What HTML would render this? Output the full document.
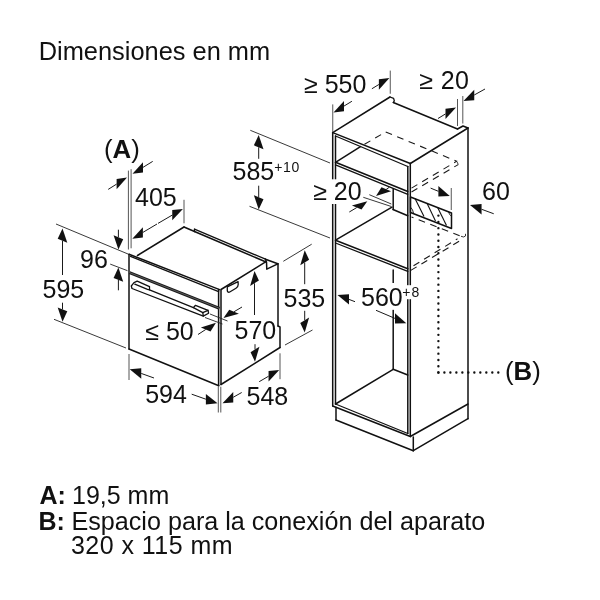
<!DOCTYPE html>
<html><head><meta charset="utf-8"><style>
html,body{margin:0;padding:0;background:#fff;}
svg{display:block;will-change:transform;}
text{font-family:"Liberation Sans",sans-serif;fill:#111;-webkit-font-smoothing:antialiased;}
</style></head><body>
<svg width="600" height="600" viewBox="0 0 600 600">
<rect width="600" height="600" fill="#fff"/>
<line x1="129" y1="254.2" x2="129" y2="349" stroke="#111" stroke-width="1.5" fill="none" stroke-linecap="round" stroke-linejoin="round"/>
<line x1="129" y1="349" x2="218.8" y2="385.8" stroke="#111" stroke-width="1.5" fill="none" stroke-linecap="round" stroke-linejoin="round"/>
<line x1="218.6" y1="289.5" x2="218.6" y2="385.8" stroke="#111" stroke-width="1.5" fill="none" stroke-linecap="round" stroke-linejoin="round"/>
<line x1="221" y1="290.5" x2="221" y2="384.5" stroke="#111" stroke-width="1.5" fill="none" stroke-linecap="round" stroke-linejoin="round"/>
<line x1="129" y1="254.2" x2="219.6" y2="289.6" stroke="#111" stroke-width="1.5" fill="none" stroke-linecap="round" stroke-linejoin="round"/>
<line x1="130.5" y1="256.3" x2="218.6" y2="291.6" stroke="#111" stroke-width="1.3" fill="none" stroke-linecap="round" stroke-linejoin="round"/>
<line x1="129.5" y1="272.6" x2="219.5" y2="308.3" stroke="#1a1a1a" stroke-width="3"/>
<line x1="129.5" y1="272.6" x2="219.5" y2="308.3" stroke="#888" stroke-width="0.6"/>
<path d="M132,288.5 L131.3,286 L134,282.7 L137.2,281.2 L149.5,286.6 L149.5,289.9 L193.4,307.6 L195.5,305.3 L208,310.3 L208.6,313.2 L203.3,316.1 Z" stroke="#111" stroke-width="1.3" fill="none" stroke-linecap="round" stroke-linejoin="round"/>
<path d="M134.8,284.2 L147.5,289.3 L149.5,289.9" stroke="#111" stroke-width="1.3" fill="none" stroke-linecap="round" stroke-linejoin="round"/>
<path d="M193.4,307.6 L202.8,312.6 L208,310.3" stroke="#111" stroke-width="1.3" fill="none" stroke-linecap="round" stroke-linejoin="round"/>
<line x1="202.8" y1="312.6" x2="203.3" y2="316.1" stroke="#111" stroke-width="1.3" fill="none" stroke-linecap="round" stroke-linejoin="round"/>
<line x1="137.5" y1="255.5" x2="184" y2="227" stroke="#111" stroke-width="1.5" fill="none" stroke-linecap="round" stroke-linejoin="round"/>
<line x1="184" y1="227" x2="194.5" y2="231.5" stroke="#111" stroke-width="1.5" fill="none" stroke-linecap="round" stroke-linejoin="round"/>
<line x1="194.5" y1="231.5" x2="266" y2="262" stroke="#111" stroke-width="1.5" fill="none" stroke-linecap="round" stroke-linejoin="round"/>
<line x1="194.5" y1="229.1" x2="265.5" y2="259.2" stroke="#111" stroke-width="1.3" fill="none" stroke-linecap="round" stroke-linejoin="round"/>
<line x1="194.5" y1="229.1" x2="194.5" y2="231.5" stroke="#111" stroke-width="1.3" fill="none" stroke-linecap="round" stroke-linejoin="round"/>
<line x1="221" y1="289.5" x2="266" y2="261.7" stroke="#111" stroke-width="1.5" fill="none" stroke-linecap="round" stroke-linejoin="round"/>
<path d="M265.5,259.2 L266.5,262 L266.8,269.2 L277.8,263.8" stroke="#111" stroke-width="1.5" fill="none" stroke-linecap="round" stroke-linejoin="round"/>
<line x1="265.5" y1="259.2" x2="277.8" y2="263.8" stroke="#111" stroke-width="1.5" fill="none" stroke-linecap="round" stroke-linejoin="round"/>
<line x1="278" y1="263.8" x2="278" y2="326" stroke="#111" stroke-width="1.5" fill="none" stroke-linecap="round" stroke-linejoin="round"/>
<path d="M278,326 L280,327 L280,347.5" stroke="#111" stroke-width="1.5" fill="none" stroke-linecap="round" stroke-linejoin="round"/>
<line x1="280" y1="347.5" x2="221" y2="384.5" stroke="#111" stroke-width="1.5" fill="none" stroke-linecap="round" stroke-linejoin="round"/>
<path d="M227.3,286.8 L227.3,290.6 Q227.5,292.6 229.3,292.2 L236,288.3 Q238.2,287 238.2,284.5 L238.1,281.6 Z" stroke="#111" stroke-width="1.3" fill="none" stroke-linejoin="round"/>
<line x1="332.7" y1="132.6" x2="332.7" y2="406" stroke="#111" stroke-width="1.5" fill="none" stroke-linecap="round" stroke-linejoin="round"/>
<line x1="335.5" y1="136" x2="335.5" y2="404" stroke="#111" stroke-width="1.5" fill="none" stroke-linecap="round" stroke-linejoin="round"/>
<line x1="410.3" y1="163.5" x2="410.3" y2="436.5" stroke="#111" stroke-width="1.5" fill="none" stroke-linecap="round" stroke-linejoin="round"/>
<line x1="407.8" y1="166.5" x2="407.8" y2="433.5" stroke="#111" stroke-width="1.5" fill="none" stroke-linecap="round" stroke-linejoin="round"/>
<line x1="332.7" y1="132.6" x2="410.3" y2="163.5" stroke="#111" stroke-width="1.5" fill="none" stroke-linecap="round" stroke-linejoin="round"/>
<line x1="335.5" y1="136" x2="407.8" y2="166.5" stroke="#111" stroke-width="1.3" fill="none" stroke-linecap="round" stroke-linejoin="round"/>
<line x1="332.7" y1="132.6" x2="390" y2="97" stroke="#111" stroke-width="1.5" fill="none" stroke-linecap="round" stroke-linejoin="round"/>
<path d="M390,97 L393.6,98.4 L394.3,100.8 L393.3,102.5" stroke="#111" stroke-width="1.3" fill="none" stroke-linecap="round" stroke-linejoin="round"/>
<line x1="393.3" y1="102.5" x2="457.5" y2="129" stroke="#111" stroke-width="1.5" fill="none" stroke-linecap="round" stroke-linejoin="round"/>
<path d="M457.5,129 L463,126 L468,128" stroke="#111" stroke-width="1.5" fill="none" stroke-linecap="round" stroke-linejoin="round"/>
<line x1="468" y1="128" x2="410.3" y2="163.5" stroke="#111" stroke-width="1.5" fill="none" stroke-linecap="round" stroke-linejoin="round"/>
<line x1="468" y1="128" x2="468" y2="418.7" stroke="#111" stroke-width="1.5" fill="none" stroke-linecap="round" stroke-linejoin="round"/>
<line x1="335.5" y1="162.3" x2="407.8" y2="191.5" stroke="#111" stroke-width="1.5" fill="none" stroke-linecap="round" stroke-linejoin="round"/>
<line x1="335.5" y1="164.9" x2="407.8" y2="194.3" stroke="#111" stroke-width="1.3" fill="none" stroke-linecap="round" stroke-linejoin="round"/>
<line x1="335.5" y1="162.3" x2="360.5" y2="146.6" stroke="#111" stroke-width="1.5" fill="none" stroke-linecap="round" stroke-linejoin="round"/>
<line x1="393.2" y1="189" x2="393.2" y2="209.5" stroke="#111" stroke-width="1.5" fill="none" stroke-linecap="round" stroke-linejoin="round"/>
<line x1="393" y1="209.5" x2="407.8" y2="215.8" stroke="#111" stroke-width="1.5" fill="none" stroke-linecap="round" stroke-linejoin="round"/>
<line x1="335.5" y1="240.2" x2="407.8" y2="268.7" stroke="#111" stroke-width="1.5" fill="none" stroke-linecap="round" stroke-linejoin="round"/>
<line x1="335.5" y1="243" x2="407.8" y2="271.4" stroke="#111" stroke-width="1.3" fill="none" stroke-linecap="round" stroke-linejoin="round"/>
<line x1="335.5" y1="240.2" x2="392" y2="207.2" stroke="#111" stroke-width="1.5" fill="none" stroke-linecap="round" stroke-linejoin="round"/>
<line x1="393.2" y1="270" x2="393.2" y2="283" stroke="#111" stroke-width="1.5" fill="none" stroke-linecap="round" stroke-linejoin="round"/>
<line x1="393.2" y1="309.8" x2="393.2" y2="369.3" stroke="#111" stroke-width="1.5" fill="none" stroke-linecap="round" stroke-linejoin="round"/>
<line x1="335.5" y1="404" x2="393.2" y2="369.3" stroke="#111" stroke-width="1.5" fill="none" stroke-linecap="round" stroke-linejoin="round"/>
<line x1="393.2" y1="369.3" x2="407.8" y2="375" stroke="#111" stroke-width="1.5" fill="none" stroke-linecap="round" stroke-linejoin="round"/>
<line x1="332.7" y1="406" x2="410.3" y2="436.5" stroke="#111" stroke-width="1.5" fill="none" stroke-linecap="round" stroke-linejoin="round"/>
<line x1="335.5" y1="404" x2="407.8" y2="433.5" stroke="#111" stroke-width="1.3" fill="none" stroke-linecap="round" stroke-linejoin="round"/>
<line x1="336" y1="407.5" x2="336" y2="420" stroke="#111" stroke-width="1.5" fill="none" stroke-linecap="round" stroke-linejoin="round"/>
<line x1="336" y1="420" x2="413.3" y2="450.7" stroke="#111" stroke-width="1.5" fill="none" stroke-linecap="round" stroke-linejoin="round"/>
<line x1="413.3" y1="437" x2="413.3" y2="450.7" stroke="#111" stroke-width="1.5" fill="none" stroke-linecap="round" stroke-linejoin="round"/>
<line x1="413.3" y1="450.7" x2="468" y2="418.7" stroke="#111" stroke-width="1.5" fill="none" stroke-linecap="round" stroke-linejoin="round"/>
<line x1="410.3" y1="436.5" x2="468" y2="404" stroke="#111" stroke-width="1.5" fill="none" stroke-linecap="round" stroke-linejoin="round"/>
<path d="M410.5,197 L451.5,213 L451.5,228.5 L410.5,212.5 Z" stroke="#111" stroke-width="1.5" fill="none" stroke-linecap="round" stroke-linejoin="round"/>
<line x1="415" y1="198.5" x2="424" y2="216.5" stroke="#111" stroke-width="1.1"/>
<line x1="427" y1="203.3" x2="435.5" y2="221" stroke="#111" stroke-width="1.1"/>
<line x1="437.5" y1="207.3" x2="446.5" y2="225.5" stroke="#111" stroke-width="1.1"/>
<path d="M410.7,207.3 Q413,209.5 413.6,213.6" stroke="#111" stroke-width="0.9" fill="none"/>
<path d="M448.6,211.6 Q449,215 451.3,216" stroke="#111" stroke-width="0.9" fill="none"/>
<path d="M364.5,144.3 L385.7,131.9" stroke="#1a1a1a" stroke-width="1.1" fill="none" stroke-dasharray="6.8,5.6"/>
<path d="M385.7,131.9 L456.5,161.2" stroke="#1a1a1a" stroke-width="1.1" fill="none" stroke-dasharray="6.8,5.6"/>
<path d="M411.5,188.1 L457.3,160.9" stroke="#1a1a1a" stroke-width="1.1" fill="none" stroke-dasharray="6.8,5.6"/>
<path d="M411.5,192 L458.2,164.6" stroke="#1a1a1a" stroke-width="1.1" fill="none" stroke-dasharray="6.8,5.6"/>
<path d="M411.5,217 L461,236.3" stroke="#1a1a1a" stroke-width="1.1" fill="none" stroke-dasharray="6.8,5.6" stroke-dashoffset="4.7"/>
<path d="M410.8,270.4 L459.5,241" stroke="#1a1a1a" stroke-width="1.1" fill="none" stroke-dasharray="6.8,5.6"/>
<path d="M413.5,265.8 L457.5,238.8" stroke="#1a1a1a" stroke-width="1.1" fill="none" stroke-dasharray="6.8,5.6"/>
<path d="M455.5,160.8 Q458,162 458.2,164.6" stroke="#222" stroke-width="0.9" fill="none"/>
<path d="M461,236.3 Q464,237.8 465.5,236 L465.5,233.8" stroke="#222" stroke-width="0.9" fill="none"/>
<path d="M438.4,372.5 L438.4,215.2" stroke="#111" stroke-width="2.4" fill="none" stroke-dasharray="0,6.276" stroke-linecap="round"/>
<path d="M438.4,372.5 L498.8,372.5" stroke="#111" stroke-width="2.4" fill="none" stroke-dasharray="0,5.99" stroke-linecap="round"/>
<line x1="56" y1="224" x2="128" y2="254" stroke="#222" stroke-width="0.9" fill="none"/>
<line x1="54" y1="319.3" x2="126" y2="348" stroke="#222" stroke-width="0.9" fill="none"/>
<line x1="62.5" y1="275" x2="62.50" y2="240.80" stroke="#1a1a1a" stroke-width="1" fill="none"/>
<path d="M62.5,228.5 L67.31,242.77 L57.69,238.83 Z" fill="#111"/>
<line x1="62.5" y1="302.7" x2="62.50" y2="309.40" stroke="#1a1a1a" stroke-width="1" fill="none"/>
<path d="M62.5,321.7 L67.31,311.37 L57.69,307.43 Z" fill="#111"/>
<line x1="110.2" y1="264.1" x2="127.5" y2="270.7" stroke="#222" stroke-width="0.9" fill="none"/>
<line x1="118.4" y1="229.7" x2="118.40" y2="237.20" stroke="#1a1a1a" stroke-width="1" fill="none"/>
<path d="M118.4,249.5 L123.21,239.17 L113.59,235.23 Z" fill="#111"/>
<line x1="118.4" y1="290.3" x2="118.40" y2="279.90" stroke="#1a1a1a" stroke-width="1" fill="none"/>
<path d="M118.4,267.6 L123.21,281.87 L113.59,277.93 Z" fill="#111"/>
<line x1="128.4" y1="170.6" x2="128.4" y2="249.5" stroke="#555" stroke-width="1" fill="none"/>
<line x1="131.1" y1="169.2" x2="131.1" y2="248.3" stroke="#555" stroke-width="1" fill="none"/>
<line x1="108.2" y1="189.4" x2="116.61" y2="184.08" stroke="#1a1a1a" stroke-width="1" fill="none"/>
<path d="M127,177.5 L116.61,189.28 L116.61,178.88 Z" fill="#111"/>
<line x1="152.7" y1="161.4" x2="142.98" y2="167.37" stroke="#1a1a1a" stroke-width="1" fill="none"/>
<path d="M132.5,173.8 L142.98,172.57 L142.98,162.17 Z" fill="#111"/>
<line x1="184" y1="199.8" x2="184" y2="223.3" stroke="#555" stroke-width="1" fill="none"/>
<line x1="157" y1="224" x2="142.87" y2="232.41" stroke="#1a1a1a" stroke-width="1" fill="none"/>
<path d="M132.3,238.7 L142.87,237.61 L142.87,227.21 Z" fill="#111"/>
<line x1="158" y1="223.4" x2="172.27" y2="215.09" stroke="#1a1a1a" stroke-width="1" fill="none"/>
<path d="M182.9,208.9 L172.27,220.29 L172.27,209.89 Z" fill="#111"/>
<line x1="250.3" y1="130.3" x2="330" y2="163" stroke="#222" stroke-width="0.9" fill="none"/>
<line x1="249.5" y1="206.3" x2="330" y2="238" stroke="#222" stroke-width="0.9" fill="none"/>
<line x1="258.7" y1="158.8" x2="258.70" y2="147.30" stroke="#1a1a1a" stroke-width="1" fill="none"/>
<path d="M258.7,135 L263.51,149.27 L253.89,145.33 Z" fill="#111"/>
<line x1="258.7" y1="185.7" x2="258.70" y2="197.20" stroke="#1a1a1a" stroke-width="1" fill="none"/>
<path d="M258.7,209.5 L263.51,199.17 L253.89,195.23 Z" fill="#111"/>
<line x1="129" y1="354" x2="129" y2="380" stroke="#555" stroke-width="1" fill="none"/>
<line x1="218.3" y1="386.7" x2="218.3" y2="412.5" stroke="#555" stroke-width="1" fill="none"/>
<line x1="154" y1="378" x2="141.28" y2="373.45" stroke="#1a1a1a" stroke-width="1" fill="none"/>
<path d="M129.7,369.3 L141.28,378.65 L141.28,368.25 Z" fill="#111"/>
<line x1="191.7" y1="394.2" x2="205.90" y2="399.21" stroke="#1a1a1a" stroke-width="1" fill="none"/>
<path d="M217.5,403.3 L205.90,404.41 L205.90,394.01 Z" fill="#111"/>
<line x1="210" y1="314" x2="227.5" y2="321" stroke="#222" stroke-width="0.9" fill="none"/>
<line x1="205" y1="317.5" x2="222.5" y2="324" stroke="#222" stroke-width="0.9" fill="none"/>
<line x1="198" y1="334.5" x2="205.69" y2="329.50" stroke="#1a1a1a" stroke-width="1" fill="none"/>
<path d="M216,322.8 L210.50,331.48 L200.88,327.53 Z" fill="#111"/>
<line x1="242" y1="307" x2="234.07" y2="311.71" stroke="#1a1a1a" stroke-width="1" fill="none"/>
<path d="M223.5,318 L238.88,313.69 L229.26,309.74 Z" fill="#111"/>
<line x1="254.5" y1="315" x2="254.50" y2="283.30" stroke="#1a1a1a" stroke-width="1" fill="none"/>
<path d="M254.5,271 L258.92,280.56 L250.08,286.04 Z" fill="#111"/>
<line x1="255" y1="344.2" x2="255.00" y2="349.40" stroke="#1a1a1a" stroke-width="1" fill="none"/>
<path d="M255,361.7 L259.42,346.66 L250.58,352.14 Z" fill="#111"/>
<line x1="220.8" y1="386.7" x2="220.8" y2="412.5" stroke="#555" stroke-width="1" fill="none"/>
<line x1="280" y1="353.3" x2="280" y2="379.2" stroke="#555" stroke-width="1" fill="none"/>
<line x1="241.7" y1="392.5" x2="233.22" y2="397.27" stroke="#1a1a1a" stroke-width="1" fill="none"/>
<path d="M222.5,403.3 L233.22,402.47 L233.22,392.07 Z" fill="#111"/>
<line x1="259.2" y1="381.7" x2="268.58" y2="376.21" stroke="#1a1a1a" stroke-width="1" fill="none"/>
<path d="M279.2,370 L268.58,381.41 L268.58,371.01 Z" fill="#111"/>
<line x1="283.3" y1="261.3" x2="311.7" y2="244.2" stroke="#222" stroke-width="0.9" fill="none"/>
<line x1="285" y1="345" x2="312.5" y2="330" stroke="#222" stroke-width="0.9" fill="none"/>
<line x1="304.7" y1="284.2" x2="304.70" y2="262.60" stroke="#1a1a1a" stroke-width="1" fill="none"/>
<path d="M304.7,250.3 L309.12,259.86 L300.28,265.34 Z" fill="#111"/>
<line x1="304.7" y1="310.8" x2="304.70" y2="320.20" stroke="#1a1a1a" stroke-width="1" fill="none"/>
<path d="M304.7,332.5 L309.12,317.46 L300.28,322.94 Z" fill="#111"/>
<line x1="332.75" y1="104.4" x2="332.75" y2="132" stroke="#555" stroke-width="1" fill="none"/>
<line x1="390.25" y1="70.6" x2="390.25" y2="93.75" stroke="#555" stroke-width="1" fill="none"/>
<line x1="351.9" y1="101.25" x2="343.99" y2="106.08" stroke="#1a1a1a" stroke-width="1" fill="none"/>
<path d="M333.5,112.5 L343.99,111.28 L343.99,100.88 Z" fill="#111"/>
<line x1="371.9" y1="88.75" x2="378.89" y2="84.49" stroke="#1a1a1a" stroke-width="1" fill="none"/>
<path d="M389.4,78.1 L378.89,89.69 L378.89,79.29 Z" fill="#111"/>
<line x1="457.5" y1="99" x2="457.5" y2="126" stroke="#555" stroke-width="1" fill="none"/>
<line x1="462.8" y1="96" x2="462.8" y2="123.5" stroke="#555" stroke-width="1" fill="none"/>
<line x1="438" y1="118.5" x2="445.50" y2="113.91" stroke="#1a1a1a" stroke-width="1" fill="none"/>
<path d="M456,107.5 L445.50,119.11 L445.50,108.71 Z" fill="#111"/>
<line x1="485" y1="89" x2="474.24" y2="95.01" stroke="#1a1a1a" stroke-width="1" fill="none"/>
<path d="M463.5,101 L474.24,100.21 L474.24,89.81 Z" fill="#111"/>
<line x1="369.3" y1="194.7" x2="391.3" y2="204" stroke="#222" stroke-width="0.9" fill="none"/>
<line x1="363.3" y1="197.3" x2="391.3" y2="206.5" stroke="#222" stroke-width="0.9" fill="none"/>
<line x1="349.3" y1="212" x2="356.73" y2="207.59" stroke="#1a1a1a" stroke-width="1" fill="none"/>
<path d="M367.3,201.3 L361.54,209.56 L351.92,205.61 Z" fill="#111"/>
<line x1="389.3" y1="187.3" x2="386.29" y2="189.27" stroke="#1a1a1a" stroke-width="1" fill="none"/>
<path d="M376,196 L391.10,191.24 L381.48,187.29 Z" fill="#111"/>
<line x1="451.25" y1="188" x2="451.25" y2="210" stroke="#555" stroke-width="1" fill="none"/>
<line x1="430.6" y1="188.1" x2="438.38" y2="191.31" stroke="#1a1a1a" stroke-width="1" fill="none"/>
<path d="M449.75,196 L438.38,196.51 L438.38,186.11 Z" fill="#111"/>
<line x1="493.75" y1="213.75" x2="481.54" y2="209.25" stroke="#1a1a1a" stroke-width="1" fill="none"/>
<path d="M470,205 L481.54,214.45 L481.54,204.05 Z" fill="#111"/>
<line x1="355" y1="301.7" x2="348.99" y2="299.40" stroke="#1a1a1a" stroke-width="1" fill="none"/>
<path d="M337.5,295 L348.99,304.60 L348.99,294.20 Z" fill="#111"/>
<line x1="376" y1="310.3" x2="394.98" y2="318.38" stroke="#1a1a1a" stroke-width="1" fill="none"/>
<path d="M406.3,323.2 L394.98,323.58 L394.98,313.18 Z" fill="#111"/>
<rect x="326" y="179.3" width="14" height="24.7" fill="#fff"/>
<rect x="405" y="285.2" width="7" height="14" fill="#fff"/>
<rect x="388" y="283" width="10" height="26.8" fill="#fff"/>
<text x="38.7" y="59.5" font-size="25.4" text-anchor="start" font-weight="normal" >Dimensiones en mm</text>
<text x="104" y="157.5" font-size="25.8" text-anchor="start" font-weight="normal" >(<tspan font-weight="bold">A</tspan>)</text>
<text x="135" y="205.7" font-size="25" text-anchor="start" font-weight="normal" >405</text>
<text x="232.5" y="180.2" font-size="25" text-anchor="start" font-weight="normal" >585</text>
<text x="274.3" y="172" font-size="14" text-anchor="start" font-weight="normal" letter-spacing="0.6">+10</text>
<text x="304" y="93.4" font-size="25" text-anchor="start" font-weight="normal" >≥ 550</text>
<text x="419.3" y="88.8" font-size="25" text-anchor="start" font-weight="normal" letter-spacing="0.4">≥ 20</text>
<text x="313.2" y="200.3" font-size="25" text-anchor="start" font-weight="normal" >≥ 20</text>
<text x="482" y="200" font-size="25" text-anchor="start" font-weight="normal" >60</text>
<text x="80" y="268" font-size="25" text-anchor="start" font-weight="normal" >96</text>
<text x="42.5" y="298" font-size="25" text-anchor="start" font-weight="normal" >595</text>
<text x="283.5" y="306.7" font-size="25" text-anchor="start" font-weight="normal" >535</text>
<text x="361" y="305.7" font-size="25" text-anchor="start" font-weight="normal" >560</text>
<text x="402.2" y="297" font-size="14" text-anchor="start" font-weight="normal" letter-spacing="1.2">+8</text>
<text x="145.3" y="340.3" font-size="25" text-anchor="start" font-weight="normal" >≤ 50</text>
<text x="234.5" y="338.5" font-size="25" text-anchor="start" font-weight="normal" >570</text>
<text x="145.2" y="403.3" font-size="25" text-anchor="start" font-weight="normal" >594</text>
<text x="246.5" y="405" font-size="25" text-anchor="start" font-weight="normal" >548</text>
<text x="505" y="380.2" font-size="25.8" text-anchor="start" font-weight="normal" >(<tspan font-weight="bold">B</tspan>)</text>
<text x="39.5" y="504.3" font-size="25" text-anchor="start" font-weight="bold" >A:</text>
<text x="72" y="504.2" font-size="25" text-anchor="start" font-weight="normal" >19,5 mm</text>
<text x="38.5" y="529.5" font-size="25" text-anchor="start" font-weight="bold" >B:</text>
<text x="71.5" y="529.5" font-size="25.15" text-anchor="start" font-weight="normal" >Espacio para la conexión del aparato</text>
<text x="71" y="554.2" font-size="25" text-anchor="start" font-weight="normal" letter-spacing="0.45">320 x 115 mm</text>
</svg>
</body></html>
